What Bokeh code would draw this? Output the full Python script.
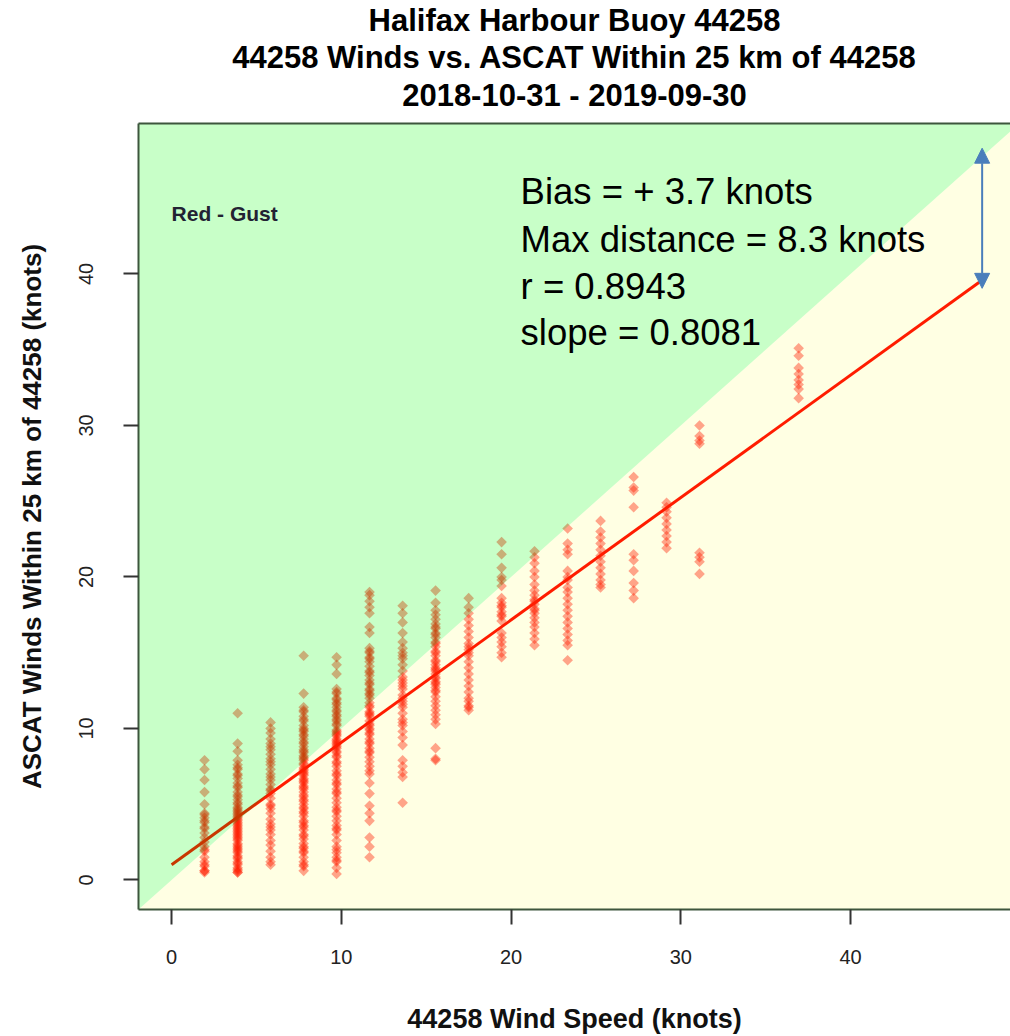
import numpy as np
from bokeh.plotting import figure
from bokeh.models import Range1d, FixedTicker, LinearAxis, Title, Label, Arrow, NormalHead
from bokeh.embed import file_html
from bokeh.resources import INLINE

# ---------------- data ----------------
# buoy wind speed (knots) - discrete steps of 1 m/s
buoy_x = [1.94, 3.89, 5.83, 7.78, 9.72, 11.66, 13.61, 15.55, 17.50, 19.44,
          21.38, 23.33, 25.27, 27.22, 29.16, 31.10, 36.94]

# ASCAT winds (knots) for each buoy speed column
c01 = [7.9, 7.3, 6.6, 5.8, 5.0, 4.4, 4.1, 3.8, 3.4, 3.1, 2.8, 2.5, 2.2, 1.9, 1.5, 1.2, 0.9, 0.6, 0.5,
       4.3, 3.9, 3.5, 2.0, 1.0, 0.6]
c02 = [11.0, 9.0, 8.5, 7.9, 7.6, 7.3, 7.0, 6.7, 6.4, 6.1, 5.8, 5.5, 5.3, 5.0, 4.8, 4.6, 4.4, 4.2, 4.0,
       3.8, 3.6, 3.4, 3.2, 3.0, 2.8, 2.6, 2.4, 2.2, 2.0, 1.8, 1.6, 1.4, 1.2, 1.0, 0.8, 0.6, 0.5, 2.1, 3.3, 4.5,
       7.4, 6.9, 6.2, 5.6, 5.1, 4.7, 4.3, 3.9, 3.5, 3.1, 2.7, 2.3, 1.9, 1.5, 1.1, 0.7, 0.5, 2.9, 3.7, 4.1]
c03 = [10.4, 10.0, 9.7, 9.3, 9.0, 8.6, 8.3, 8.0, 7.6, 7.3, 7.0, 6.6, 6.3, 6.0, 5.7, 5.4, 5.0, 4.7, 4.4,
       4.0, 3.7, 3.3, 3.0, 2.6, 2.3, 1.9, 1.5, 1.2, 1.0, 8.8, 7.8, 6.8, 5.9, 4.9, 3.5]
c04 = [14.8, 12.3, 11.4, 11.1, 10.8, 10.5, 10.2, 9.9, 9.6, 9.3, 9.0, 8.8, 8.5, 8.2, 8.0, 7.7, 7.4, 7.2,
       6.9, 6.6, 6.4, 6.1, 5.8, 5.6, 5.3, 5.0, 4.7, 4.5, 4.2, 3.9, 3.6, 3.3, 3.0, 2.7, 2.4, 2.1, 1.8,
       1.5, 1.2, 0.9, 0.6, 8.6, 7.9, 7.0, 6.2, 9.5, 10.0, 5.5, 4.8, 3.8, 2.2,
       11.2, 10.6, 9.8, 9.1, 8.4, 7.6, 7.1, 6.7, 6.0, 5.2, 4.4, 3.5, 2.9, 1.9, 1.0, 8.1, 7.3, 6.5]
c05 = [14.7, 14.2, 13.6, 12.6, 12.3, 12.0, 11.7, 11.4, 11.1, 10.8, 10.5, 10.2, 9.9, 9.6, 9.3, 9.0, 8.7,
       8.4, 8.1, 7.8, 7.5, 7.2, 6.9, 6.6, 6.3, 6.0, 5.7, 5.4, 5.1, 4.8, 4.5, 4.2, 3.9, 3.6, 3.3, 3.0,
       2.6, 2.2, 1.8, 1.5, 1.2, 0.8, 0.4, 11.9, 11.2, 10.6, 9.8, 9.1, 8.5,
       12.4, 11.6, 10.9, 10.3, 9.5, 8.9, 8.2, 7.7, 7.0, 6.4, 5.8, 4.6, 3.4, 2.0, 1.3, 9.7, 9.2, 8.8]
c06 = [19.0, 18.8, 18.4, 18.0, 17.6, 16.7, 16.3, 15.3, 15.0, 14.7, 14.4, 14.1, 13.8, 13.5, 13.2, 12.9,
       12.6, 12.3, 12.0, 11.7, 11.4, 11.1, 10.8, 10.5, 10.2, 9.9, 9.6, 9.3, 9.0, 8.7, 8.4, 8.1, 7.8,
       7.5, 7.2, 7.0, 6.4, 5.7, 4.9, 4.4, 3.9, 2.8, 2.2, 1.5, 12.5, 11.0, 10.0,
       13.0, 12.2, 11.5, 10.9, 10.3, 9.7, 9.1, 8.5, 14.6, 13.7, 15.1]
c07 = [18.1, 17.6, 17.0, 16.3, 15.7, 15.3, 15.0, 14.6, 14.2, 13.8, 13.4, 13.0, 12.6, 12.2, 11.8, 11.4,
       11.0, 10.6, 10.2, 9.8, 9.4, 8.9, 7.9, 7.5, 7.1, 6.8, 5.1, 12.0, 13.2, 14.8, 11.6, 10.4, 12.8]
c08 = [19.1, 18.3, 17.8, 17.5, 17.2, 16.9, 16.6, 16.3, 16.0, 15.7, 15.4, 15.1, 14.8, 14.5, 14.2, 13.9,
       13.6, 13.3, 13.0, 12.7, 12.4, 12.1, 11.8, 11.5, 11.2, 10.9, 10.6, 10.3, 8.7, 8.0, 7.9, 14.0,
       13.4, 12.9, 15.0, 16.2, 14.4, 13.8, 13.1, 15.6, 12.5, 16.7]
c09 = [18.6, 18.0, 17.6, 17.2, 16.8, 16.4, 16.0, 15.6, 15.2, 14.8, 14.4, 14.0, 13.6, 13.2, 12.8, 12.4,
       12.0, 11.8, 11.5, 11.2, 15.4, 15.0, 11.4]
c10 = [22.3, 21.5, 20.6, 20.0, 19.8, 19.4, 18.6, 18.3, 18.0, 17.7, 17.4, 17.1, 16.3, 16.0, 15.7, 15.4,
       15.0, 14.7, 18.1, 17.5]
c11 = [21.7, 21.3, 20.9, 20.4, 20.0, 19.5, 19.1, 18.8, 18.5, 18.2, 17.9, 17.6, 17.3, 17.0, 16.7, 16.3,
       15.9, 15.5, 18.4, 17.8]
c12 = [23.2, 22.2, 21.8, 21.5, 20.4, 20.0, 19.8, 19.3, 19.0, 18.6, 18.2, 17.8, 17.4, 17.0, 16.6, 16.2,
       15.8, 15.5, 14.5]
c13 = [23.7, 23.0, 22.6, 22.2, 21.8, 21.4, 21.0, 20.6, 20.2, 19.8, 19.5, 19.3]
c14 = [26.6, 25.9, 25.7, 24.6, 21.5, 21.1, 20.4, 19.6, 19.1, 18.6]
c15 = [24.9, 24.6, 24.3, 23.9, 23.5, 23.1, 22.7, 22.3, 21.9]
c16 = [30.0, 29.3, 29.0, 28.8, 21.6, 21.3, 21.0, 20.2]
c19 = [35.1, 34.6, 33.8, 33.4, 33.0, 32.7, 32.4, 31.8]
ascat_cols = [c01, c02, c03, c04, c05, c06, c07, c08, c09, c10, c11, c12, c13, c14, c15, c16, c19]

# regression fit
fit_slope = 0.8081
fit_intercept = 1.0
fit_x_range = [0.0, 47.7]

# max-distance arrow (knots)
arrow_x = 47.75
arrow_y = [39.05, 48.3]

tick_vals = [0, 10, 20, 30, 40]
stats_lines = ["Bias = + 3.7 knots", "Max distance = 8.3 knots", "r = 0.8943", "slope = 0.8081"]

# ---------------- build ----------------
xs, ys = [], []
for bx, col in zip(buoy_x, ascat_cols):
    xs += [bx] * len(col)
    ys += col

X0, X1 = -1.95, 49.42
Y0, Y1 = -1.95, 49.93

BORDER = "#3d563d"
FONT = "Liberation Sans"

p = figure(width=1010, height=1036, output_backend="svg", toolbar_location=None,
           x_range=Range1d(X0, X1), y_range=Range1d(Y0, Y1),
           min_border_left=138, min_border_right=0, min_border_bottom=127, min_border_top=123)
p.outline_line_color = None
p.background_fill_color = "white"
p.border_fill_color = "white"
p.grid.visible = False

# points
p.scatter(xs, ys, marker="square", angle=np.pi / 4, size=7.5,
          fill_color="red", fill_alpha=0.4, line_color=None)

# regression line
fx = np.array(fit_x_range)
p.line(fx, fit_intercept + fit_slope * fx, line_color="red", line_width=3)

# translucent region overlays (above / below the 1:1 line)
p.patch([X0, X0, X1, X1], [X0, Y1, Y1, X1], fill_color="#00FF00", fill_alpha=0.215, line_color=None)
p.patch([X0, X1, X1, X0], [X0, X1, Y0, Y0], fill_color="#FFFF00", fill_alpha=0.11, line_color=None)

# axes
for ax in (p.xaxis[0], p.yaxis[0]):
    ax.ticker = FixedTicker(ticks=tick_vals)
    ax.axis_line_color = BORDER
    ax.axis_line_width = 2
    ax.major_tick_out = 15
    ax.major_tick_in = 0
    ax.major_tick_line_color = "#333333"
    ax.major_tick_line_width = 2
    ax.minor_tick_line_color = None
    ax.major_label_text_font = FONT
    ax.major_label_text_font_size = "20px"
    ax.major_label_text_color = "#222222"
    ax.axis_label_text_font = FONT
    ax.axis_label_text_font_style = "bold"
    ax.axis_label_text_color = "#111111"

p.xaxis.axis_label = "44258 Wind Speed (knots)"
p.yaxis.axis_label = "ASCAT Winds Within 25 km of 44258 (knots)"
p.xaxis.axis_label_text_font_size = "27px"
p.yaxis.axis_label_text_font_size = "26px"
p.xaxis.major_label_standoff = 25
p.xaxis.axis_label_standoff = 37
p.yaxis.major_label_orientation = "vertical"
p.yaxis.major_label_standoff = 30
p.yaxis.axis_label_standoff = 30

top_axis = LinearAxis(ticker=FixedTicker(ticks=[]), axis_line_color=BORDER, axis_line_width=2,
                      major_tick_line_color=None, minor_tick_line_color=None,
                      major_label_text_font_size="0px")
p.add_layout(top_axis, "above")

# spacer between the title block and the plot frame
p.add_layout(Title(text=" ", text_font_size="8px", standoff=0), "above")

titles = ["Halifax Harbour Buoy 44258",
          "44258 Winds vs. ASCAT Within 25 km of 44258",
          "2018-10-31 - 2019-09-30"]
title_standoffs = [0, 1, 0]
for t, so in reversed(list(zip(titles, title_standoffs))):
    p.add_layout(Title(text=t, align="center", text_font=FONT, text_font_style="bold",
                       text_font_size="31px", text_color="black", standoff=so), "above")

# annotations
p.add_layout(Label(x=0.0, y=44.0, text="Red - Gust", text_font=FONT, text_font_style="bold",
                   text_font_size="21px", text_color="#222233", text_baseline="middle"))

stat_y = [45.45, 42.3, 39.2, 36.15]
for txt, sy in zip(stats_lines, stat_y):
    p.add_layout(Label(x=20.56, y=sy, text=txt, text_font=FONT, text_font_size="36.5px",
                       text_color="black", text_baseline="alphabetic"))

head_kw = dict(size=15, fill_color="#4A7EBB", line_color="#4A7EBB")
p.add_layout(Arrow(start=NormalHead(**head_kw), end=NormalHead(**head_kw),
                   x_start=arrow_x, y_start=arrow_y[0], x_end=arrow_x, y_end=arrow_y[1],
                   line_color="#4A7EBB", line_width=2))

open("out.html", "w").write(file_html(p, INLINE))
